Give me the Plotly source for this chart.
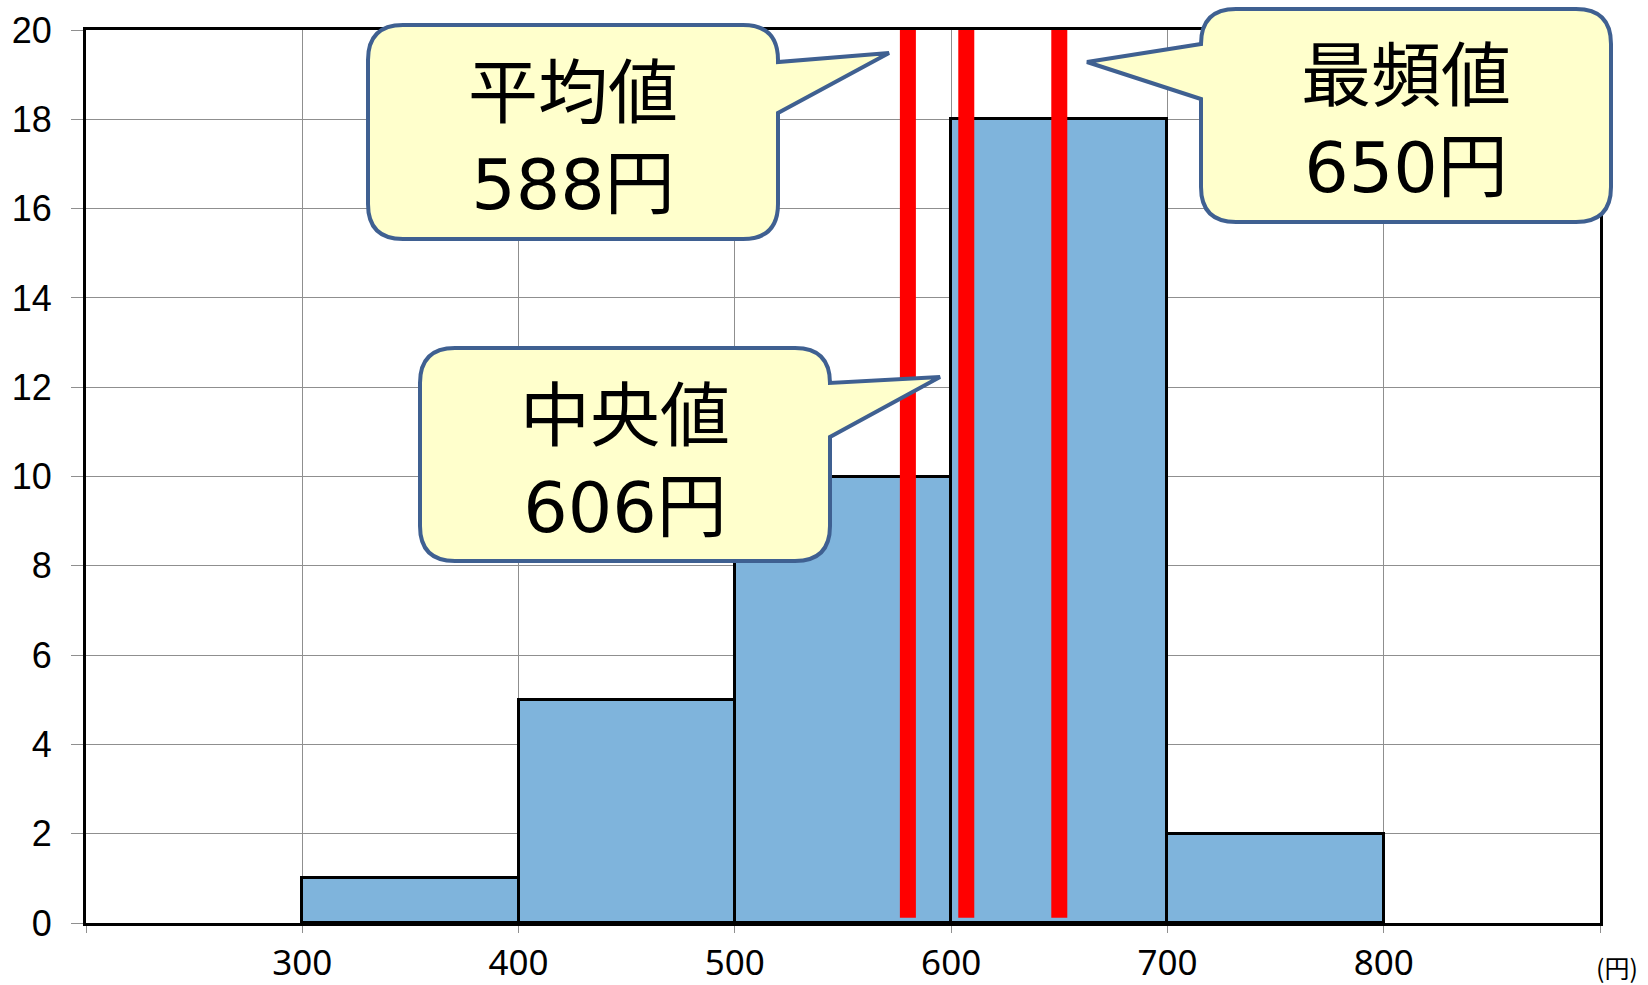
import plotly.graph_objects as go

# ---------------- data ----------------
bin_left = [300, 400, 500, 600, 700]
bin_width = 100
counts = [1, 5, 10, 18, 2]

stat_names = ["平均値", "中央値", "最頻値"]
stat_values = [588, 606, 650]
stat_line_x = [580, 607, 650]   # where the red lines are drawn in the picture

x_tick_vals = [200, 300, 400, 500, 600, 700, 800, 900]
x_tick_text = ["", "300", "400", "500", "600", "700", "800", ""]
y_tick_vals = [0, 2, 4, 6, 8, 10, 12, 14, 16, 18, 20]
unit_label = "(円)"

# ---------------- layout geometry (pixels) ----------------
FIG_W, FIG_H = 1648, 985
PL, PR, PT, PB = 86, 1600, 30, 923
PW, PH = PR - PL, PB - PT


def px(x):
    return (x - PL) / PW


def py(y):
    return 1 - (y - PT) / PH


def callout_path(box, side, base, tip, r=35):
    x0, y0, x1, y1 = box
    b0, b1 = base
    tx, ty = tip
    P = lambda x, y: f"{px(x):.6f},{py(y):.6f}"
    d = f"M {P(x0 + r, y0)} L {P(x1 - r, y0)} Q {P(x1, y0)} {P(x1, y0 + r)} "
    if side == "right":
        d += f"L {P(x1, b0)} L {P(tx, ty)} L {P(x1, b1)} "
    d += f"L {P(x1, y1 - r)} Q {P(x1, y1)} {P(x1 - r, y1)} "
    d += f"L {P(x0 + r, y1)} Q {P(x0, y1)} {P(x0, y1 - r)} "
    if side == "left":
        d += f"L {P(x0, b1)} L {P(tx, ty)} L {P(x0, b0)} "
    d += f"L {P(x0, y0 + r)} Q {P(x0, y0)} {P(x0 + r, y0)} Z"
    return d


callout_geom = [
    dict(box=(368, 25, 778, 239), side="right", base=(62, 113), tip=(889, 53), text=(573, 139)),
    dict(box=(420, 348, 830, 561), side="right", base=(383, 437), tip=(940, 377), text=(625, 462)),
    dict(box=(1201, 9, 1611, 222), side="left", base=(44, 99), tip=(1087, 62), text=(1406, 123)),
]

fig = go.Figure()
fig.add_trace(go.Bar(
    x=[b + bin_width / 2 for b in bin_left],
    y=counts,
    width=[bin_width] * len(bin_left),
    marker=dict(color="#7FB4DC", line=dict(color="black", width=3)),
    hoverinfo="skip",
))

shapes = []
for lx in stat_line_x:
    shapes.append(dict(type="line", xref="x", yref="paper", x0=lx, x1=lx, y0=0.006, y1=1.0,
                       line=dict(color="#FF0000", width=16), layer="above"))
annotations = []
for name, val, g in zip(stat_names, stat_values, callout_geom):
    shapes.append(dict(type="path", xref="paper", yref="paper",
                       path=callout_path(g["box"], g["side"], g["base"], g["tip"]),
                       fillcolor="#FFFFCC", line=dict(color="#3F6091", width=4), layer="above"))
    annotations.append(dict(xref="paper", yref="paper", x=px(g["text"][0]), y=py(g["text"][1]),
                            xanchor="center", yanchor="middle", showarrow=False,
                            text=f"{name}<br>{val}円",
                            font=dict(family="DejaVu Sans, Noto Sans CJK JP", size=70, color="black")))

annotations.append(dict(xref="paper", yref="paper", x=px(1594), y=py(967), xanchor="left",
                        yanchor="middle", showarrow=False, text=unit_label,
                        font=dict(family="Noto Sans CJK JP", size=25, color="black")))

fig.update_layout(
    width=FIG_W, height=FIG_H,
    margin=dict(l=PL, r=FIG_W - PR, t=PT, b=FIG_H - PB, autoexpand=False),
    paper_bgcolor="white", plot_bgcolor="white",
    showlegend=False, bargap=0,
    shapes=shapes, annotations=annotations,
    xaxis=dict(range=[200, 900], tickvals=x_tick_vals, ticktext=x_tick_text,
               showgrid=True, gridcolor="#8F8F8F", gridwidth=1,
               showline=True, linecolor="black", linewidth=3, mirror=True,
               ticks="outside", ticklen=7, tickcolor="#8F8F8F", tickwidth=1,
               ticklabelstandoff=0,
               tickfont=dict(family="Noto Sans", size=35, color="black"), zeroline=False),
    yaxis=dict(range=[0, 20], tickvals=y_tick_vals,
               showgrid=True, gridcolor="#8F8F8F", gridwidth=1,
               showline=True, linecolor="black", linewidth=3, mirror=True,
               ticks="outside", ticklen=12, tickcolor="#8F8F8F", tickwidth=1,
               ticklabelstandoff=12,
               tickfont=dict(family="Liberation Sans", size=36, color="black"), zeroline=False),
)

fig.write_html("out.html", config={"displayModeBar": False},
               post_script="document.body.style.margin='0';document.body.style.overflow='hidden';")
